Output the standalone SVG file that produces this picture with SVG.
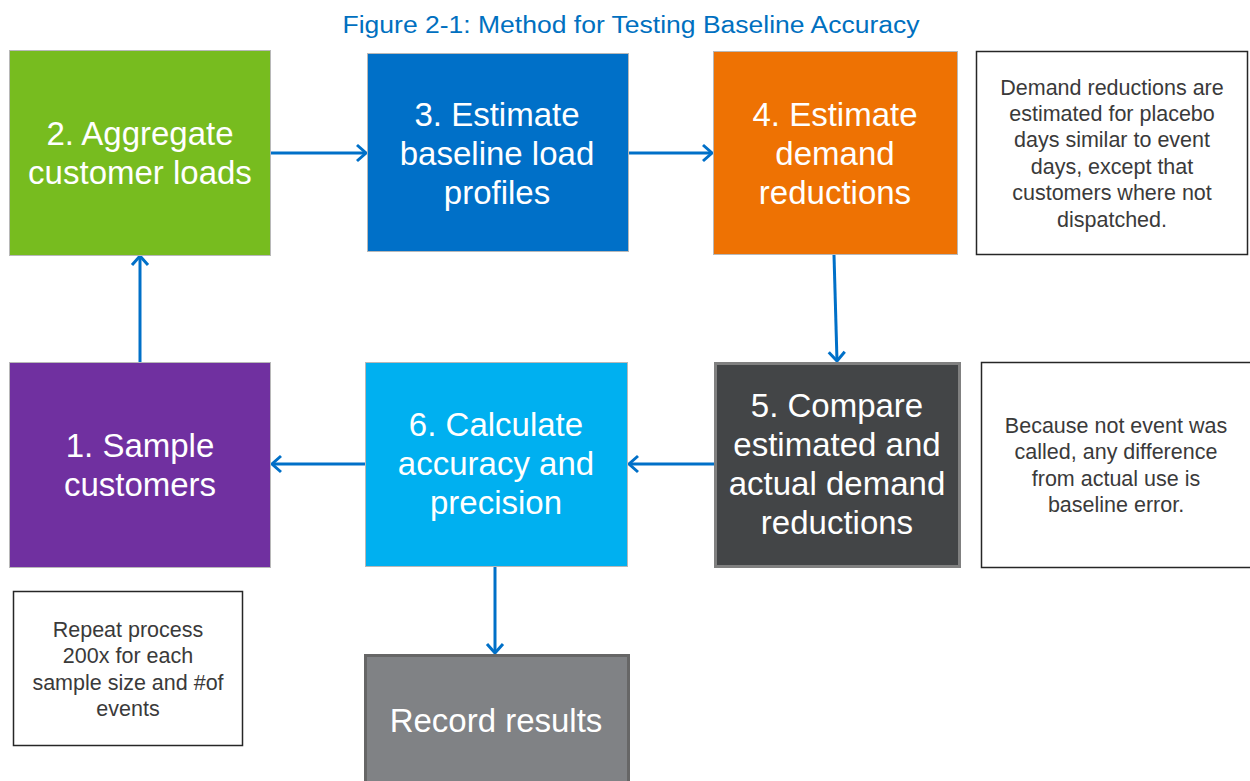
<svg xmlns="http://www.w3.org/2000/svg" width="1250" height="781" viewBox="0 0 1250 781">
<style>
.step{stroke:#b8b8b8;stroke-width:1}
.big{font-family:"Liberation Sans",Arial,sans-serif;font-size:33px;fill:#ffffff;text-anchor:middle}
.note{fill:#ffffff;stroke:#262626;stroke-width:1.5}
.nt{font-family:"Liberation Sans",Arial,sans-serif;font-size:21.5px;fill:#3a3a3a;text-anchor:middle}
.conn{stroke:#0070C8;stroke-width:3;fill:none;marker-end:url(#ah)}
</style>
<defs>
<marker id="ah" markerUnits="userSpaceOnUse" markerWidth="14" markerHeight="20" refX="11" refY="10" orient="auto" viewBox="0 0 14 20">
<path d="M2,2 L11,10 L2,18" fill="none" stroke="#0070C8" stroke-width="3"/>
</marker>
</defs>
<rect width="1250" height="781" fill="#ffffff"/>
<text x="631" y="33" font-family="Liberation Sans,Arial,sans-serif" font-size="23" fill="#0070C0" text-anchor="middle" textLength="577" lengthAdjust="spacingAndGlyphs">Figure 2-1: Method for Testing Baseline Accuracy</text>

<g id="connectors">
<line class="conn" x1="271" y1="153" x2="366" y2="153"/>
<line class="conn" x1="628" y1="153" x2="712" y2="153"/>
<line class="conn" x1="834" y1="255" x2="837" y2="361"/>
<line class="conn" x1="714" y1="464" x2="629" y2="464"/>
<line class="conn" x1="365" y1="464" x2="272" y2="464"/>
<line class="conn" x1="140" y1="362" x2="140" y2="256"/>
<line class="conn" x1="495" y1="567" x2="495" y2="653"/>
</g>

<g id="step2">
<rect class="step" x="9.5" y="50.5" width="261" height="205" fill="#77BC1F"/>
<text class="big" x="140" y="145">2. Aggregate</text>
<text class="big" x="140" y="184">customer loads</text>
</g>
<g id="step3">
<rect class="step" x="367.5" y="53.5" width="261" height="198" fill="#0070C8"/>
<text class="big" x="497" y="126">3. Estimate</text>
<text class="big" x="497" y="165">baseline load</text>
<text class="big" x="497" y="204">profiles</text>
</g>
<g id="step4">
<rect class="step" x="713.5" y="51.5" width="244" height="203" fill="#EE7203"/>
<text class="big" x="835" y="126">4. Estimate</text>
<text class="big" x="835" y="165">demand</text>
<text class="big" x="835" y="204">reductions</text>
</g>
<g id="note-placebo">
<rect class="note" x="976.5" y="51.5" width="271" height="203"/>
<text class="nt" x="1112" y="95">Demand reductions are</text>
<text class="nt" x="1112" y="121">estimated for placebo</text>
<text class="nt" x="1112" y="147">days similar to event</text>
<text class="nt" x="1112" y="174">days, except that</text>
<text class="nt" x="1112" y="200">customers where not</text>
<text class="nt" x="1112" y="227">dispatched.</text>
</g>
<g id="step1">
<rect class="step" x="9.5" y="362.5" width="261" height="205" fill="#7030A0"/>
<text class="big" x="140" y="457">1. Sample</text>
<text class="big" x="140" y="496">customers</text>
</g>
<g id="step6">
<rect class="step" x="365.5" y="362.5" width="262" height="204" fill="#00B0F0"/>
<text class="big" x="496" y="436">6. Calculate</text>
<text class="big" x="496" y="475">accuracy and</text>
<text class="big" x="496" y="514">precision</text>
</g>
<g id="step5">
<rect x="715.5" y="363.5" width="244" height="203" fill="#434547" stroke="#808080" stroke-width="3"/>
<text class="big" x="837" y="417">5. Compare</text>
<text class="big" x="837" y="456">estimated and</text>
<text class="big" x="837" y="495">actual demand</text>
<text class="big" x="837" y="534">reductions</text>
</g>
<g id="note-error">
<rect class="note" x="981.5" y="362.5" width="275" height="205"/>
<text class="nt" x="1116" y="433">Because not event was</text>
<text class="nt" x="1116" y="459">called, any difference</text>
<text class="nt" x="1116" y="486">from actual use is</text>
<text class="nt" x="1116" y="512">baseline error.</text>
</g>
<g id="note-repeat">
<rect class="note" x="13.5" y="591.5" width="229" height="154"/>
<text class="nt" x="128" y="637">Repeat process</text>
<text class="nt" x="128" y="663">200x for each</text>
<text class="nt" x="128" y="690">sample size and #of</text>
<text class="nt" x="128" y="716">events</text>
</g>
<g id="record">
<rect x="365.5" y="655.5" width="263" height="140" fill="#808285" stroke="#666666" stroke-width="3"/>
<text class="big" x="496" y="732">Record results</text>
</g>
</svg>
